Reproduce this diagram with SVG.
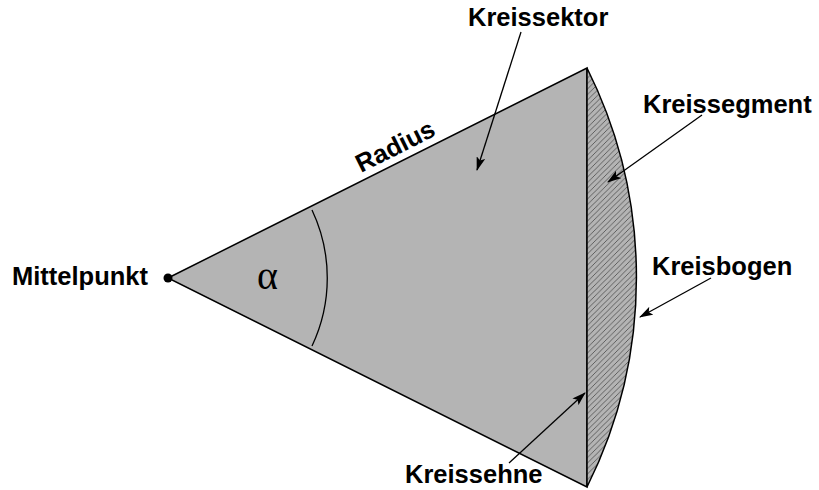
<svg xmlns="http://www.w3.org/2000/svg" width="819" height="490" viewBox="0 0 819 490">
<style>
.lbl{font-family:"Liberation Sans",Arial,sans-serif;font-weight:bold;font-size:25.5px;fill:#000}
.conn{stroke:#000;stroke-width:1.3;fill:none;marker-end:url(#ah)}
</style>
<defs>
<marker id="ah" viewBox="0 0 14 9" refX="13" refY="4.5" markerWidth="14" markerHeight="9" markerUnits="userSpaceOnUse" orient="auto">
<path d="M0,0 L14,4.5 L0,9 L3,4.5 Z" fill="#000"/>
</marker>
<pattern id="hatch" patternUnits="userSpaceOnUse" width="5.5" height="5.5">
<rect width="5.5" height="5.5" fill="#b4b4b4"/>
<path d="M-1,6.5 L6.5,-1" stroke="#3a3a3a" stroke-width="0.7"/>
</pattern>
</defs>
<rect width="819" height="490" fill="#fff"/>
<g id="sektor">
<path d="M168,278 L587,68 L587,487 Z" fill="#b4b4b4" stroke="#000" stroke-width="1.5" stroke-linejoin="miter"/>
</g>
<g id="segment">
<path d="M587,68 A468.7,468.7 0 0 1 587,487 Z" fill="url(#hatch)" stroke="#000" stroke-width="1.5"/>
</g>
<g id="winkel">
<path d="M312,210 A159,159 0 0 1 312,346" fill="none" stroke="#000" stroke-width="1.3"/>
<text x="257" y="289" font-family="Liberation Serif,'Times New Roman',serif" font-size="40">α</text>
</g>
<g id="mittelpunkt">
<circle cx="168" cy="278" r="4.5" fill="#000"/>
<text class="lbl" x="12" y="285">Mittelpunkt</text>
</g>
<g id="radius">
<text class="lbl" x="399" y="154" text-anchor="middle" transform="rotate(-26.6 399 154)">Radius</text>
</g>
<g id="label-kreissektor"><text class="lbl" x="468" y="26">Kreissektor</text></g>
<g id="label-kreissegment"><text class="lbl" x="643" y="113">Kreissegment</text></g>
<g id="label-kreisbogen"><text class="lbl" x="652" y="275">Kreisbogen</text></g>
<g id="label-kreissehne"><text class="lbl" x="405" y="483">Kreissehne</text></g>
<g id="connectors">
<line class="conn" x1="521" y1="32" x2="477" y2="170"/>
<line class="conn" x1="702" y1="115" x2="608" y2="182"/>
<line class="conn" x1="711" y1="278" x2="640" y2="317"/>
<line class="conn" x1="509" y1="463" x2="585" y2="393"/>
</g>
</svg>
